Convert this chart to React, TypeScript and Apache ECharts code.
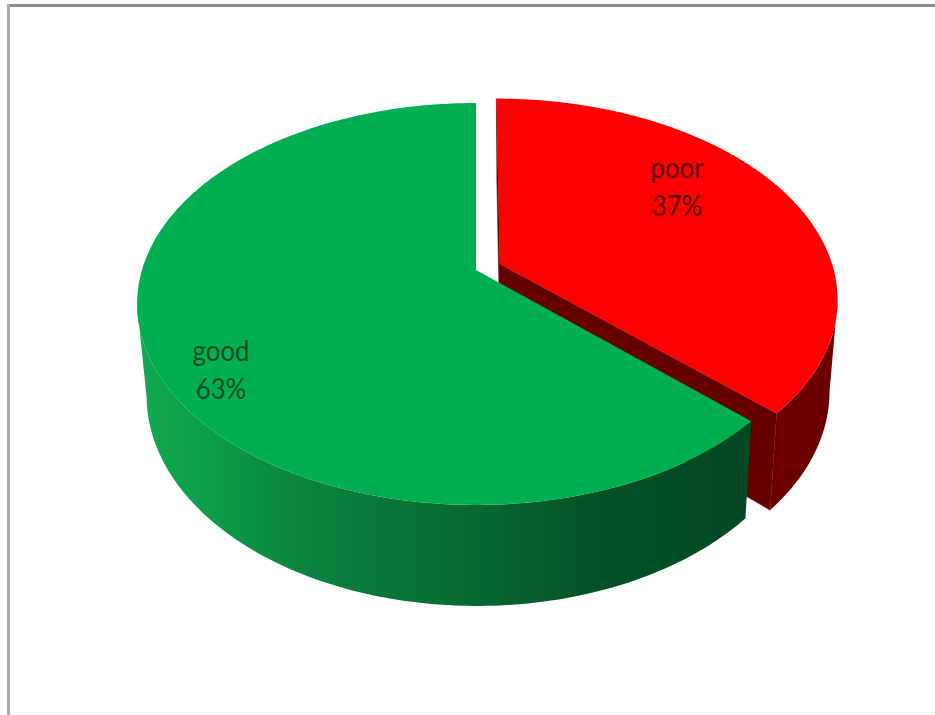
import React, { useEffect, useRef } from "react";
import * as echarts from "echarts";

const categories = ["poor", "good"];
const shares = [37, 63];

const WIDTH = 935;
const HEIGHT = 715;

// Perspective model of the tilted disc: unit-circle (u, v) to screen pixels.
const CX = 476;
const RX = 334;
const PERSP = -0.169;
const YK = 149.6;
const YB = 270;
const SIDE_X_SCALE = 0.975;
const SIDE_X_SHIFT = 1;

// Pull-out distance of each wedge, as a fraction of the radius.
const EXPLODE: Record<string, number> = { poor: 0.078, good: 0 };

const TOP_COLOR: Record<string, string> = { poor: "#ff0000", good: "#00af50" };
const LABEL_COLOR: Record<string, string> = { poor: "#5e0505", good: "#064d27" };
const LABEL_POS: Record<string, [number, number]> = {
  poor: [677, 167],
  good: [221, 350],
};

const project = (u: number, v: number): [number, number] => {
  const w = 1 + PERSP * v;
  return [CX + (RX * u) / w, (YK * v + YB) / w];
};

const projectBase = (u: number, v: number): [number, number] => {
  const [x, y] = project(u, v);
  return [CX + SIDE_X_SHIFT + (x - CX) * SIDE_X_SCALE, y + 97 + (y - 420) * 0.047];
};

const radial = (clockDeg: number, r: number, ox: number, oy: number): [number, number] => {
  const a = (clockDeg * Math.PI) / 180;
  return [ox + r * Math.sin(a), oy - r * Math.cos(a)];
};

const greenSide = {
  type: "linear",
  global: true,
  x: 145,
  y: 0,
  x2: 750,
  y2: 0,
  colorStops: [
    { offset: 0, color: "#0fa94f" },
    { offset: 0.09, color: "#0ca04a" },
    { offset: 0.25, color: "#0a853f" },
    { offset: 0.53, color: "#066a31" },
    { offset: 0.74, color: "#045228" },
    { offset: 0.95, color: "#034a24" },
    { offset: 1, color: "#034a24" },
  ],
};

const total = shares.reduce((a, b) => a + b, 0);

const renderItem = (params: any, api: any) => {
  const index = params.dataIndex;
  const name = categories[index];
  const value = api.value(0);
  let before = 0;
  for (let i = 0; i < index; i++) before += shares[i];
  const start = (before / total) * 360;
  const end = ((before + value) / total) * 360;
  const mid = (start + end) / 2;
  const [ox, oy] = radial(mid, EXPLODE[name], 0, 0);

  const arcTop: number[][] = [];
  const arcBase: number[][] = [];
  const steps = 240;
  for (let i = 0; i <= steps; i++) {
    const deg = start + ((end - start) * i) / steps;
    const [u, v] = radial(deg, 1, ox, oy);
    arcTop.push(project(u, v));
    arcBase.push(projectBase(u, v));
  }
  const apexTop = project(ox, oy);
  const apexBase = projectBase(ox, oy);
  const last = arcTop.length - 1;

  // Only the stretch of the rim between the two silhouette points faces the viewer.
  let iRight = 0;
  let iLeft = 0;
  arcTop.forEach((p, i) => {
    if (p[0] > arcTop[iRight][0]) iRight = i;
    if (p[0] < arcTop[iLeft][0]) iLeft = i;
  });
  const from = iRight;
  const to = iLeft > iRight ? iLeft : last;

  const children: any[] = [];
  if (name === "poor") {
    // Cut faces of the pulled-out wedge.
    [last, 0].forEach((k) => {
      children.push({
        type: "polygon",
        shape: { points: [apexTop, arcTop[k], arcBase[k], apexBase] },
        style: { fill: "#650000", stroke: "#650000", lineWidth: 0.5 },
      });
    });
  }
  const sideFill = name === "good" ? greenSide : "#6c0000";
  children.push({
    type: "polygon",
    shape: {
      points: [...arcTop.slice(from, to + 1), ...arcBase.slice(from, to + 1).reverse()],
    },
    style: { fill: sideFill },
  });
  children.push({
    type: "polygon",
    shape: { points: [apexTop, ...arcTop] },
    style: { fill: TOP_COLOR[name] },
  });

  const [lx, ly] = LABEL_POS[name];
  [name, `${value}%`].forEach((line, i) => {
    children.push({
      type: "text",
      x: lx,
      y: ly + i * 38,
      scaleX: 0.92,
      style: {
        text: line,
        font: '28px Lato, "Noto Sans", sans-serif',
        fill: LABEL_COLOR[name],
        align: "center",
        verticalAlign: "middle",
      },
    });
  });
  return { type: "group", children };
};

export default function App() {
  const ref = useRef<HTMLDivElement>(null);
  useEffect(() => {
    document.body.style.margin = "0";
    const chart = echarts.init(ref.current!, undefined, { renderer: "svg" });
    chart.setOption({
      animation: false,
      backgroundColor: "#ffffff",
      graphic: [
        { type: "rect", shape: { x: 7, y: 4, width: WIDTH - 7, height: 3 }, style: { fill: "#8c8c8c" } },
        { type: "rect", shape: { x: 7, y: 4, width: 3, height: HEIGHT - 4 }, style: { fill: "#ababab" } },
        { type: "rect", shape: { x: 10, y: 712, width: WIDTH - 10, height: 1 }, style: { fill: "#f2f2f2" } },
      ],
      series: [
        {
          type: "custom",
          coordinateSystem: "none",
          silent: true,
          renderItem,
          data: shares.map((v) => [v]),
        },
      ],
    });
    return () => chart.dispose();
  }, []);
  return <div ref={ref} style={{ width: WIDTH, height: HEIGHT }} />;
}
